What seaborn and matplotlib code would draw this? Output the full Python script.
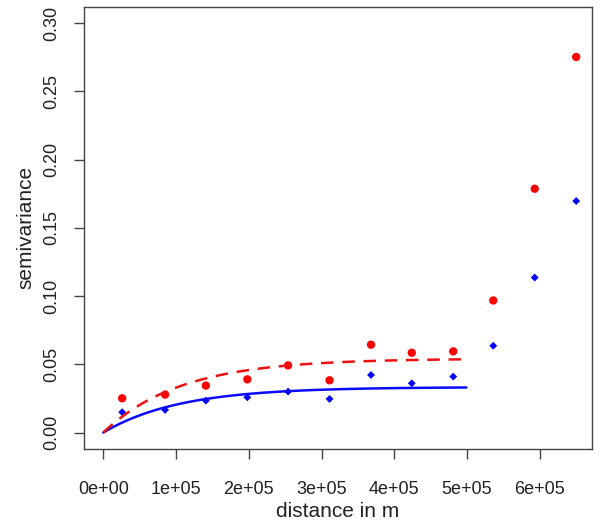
import numpy as np
import pandas as pd
import matplotlib
matplotlib.use("Agg")
import matplotlib.pyplot as plt
import seaborn as sns


sns.set_theme(style="ticks")
plt.rcParams["font.family"] = ["Liberation Sans", "DejaVu Sans"]

distance = [26000, 85000, 141000, 198000, 254000, 311000,
            368000, 424000, 481000, 536000, 593000, 650000]
gamma_red = [0.0251, 0.0278, 0.0344, 0.0390, 0.0492, 0.0383,
             0.0644, 0.0585, 0.0595, 0.0968, 0.1787, 0.2753]
gamma_blue = [0.0149, 0.0166, 0.0234, 0.0258, 0.0300, 0.0246,
              0.0422, 0.0361, 0.0410, 0.0636, 0.1136, 0.1697]

# fitted exponential models (sill, range), drawn up to the cutoff
red_sill, red_range, red_cutoff = 0.0542, 107000, 493000
blue_sill, blue_range, blue_cutoff = 0.0333, 105000, 499000

xticks = [0, 100000, 200000, 300000, 400000, 500000, 600000]
xtick_labels = ["0e+00", "1e+05", "2e+05", "3e+05", "4e+05", "5e+05", "6e+05"]
yticks = [0.00, 0.05, 0.10, 0.15, 0.20, 0.25, 0.30]

pts = pd.DataFrame({"distance": distance, "red": gamma_red, "blue": gamma_blue})

h_red = np.linspace(0, red_cutoff, 200)
h_blue = np.linspace(0, blue_cutoff, 200)
model_red = red_sill * (1 - np.exp(-h_red / red_range))
model_blue = blue_sill * (1 - np.exp(-h_blue / blue_range))

fig = plt.figure(figsize=(6, 5.3), dpi=100)
ax = fig.add_axes([0.14, 0.153, 0.847, 0.834])

sns.lineplot(x=h_blue, y=model_blue, color="#0a0aff", lw=1.8, ax=ax)
sns.lineplot(x=h_red, y=model_red, color="#ee1010", lw=1.8, ax=ax,
             linestyle=(0, (5, 3.5)))
sns.scatterplot(data=pts, x="distance", y="red", color="#ff0000",
                marker="o", s=36, edgecolor="none", ax=ax)
sns.scatterplot(data=pts, x="distance", y="blue", color="#0000ff",
                marker="D", s=16, edgecolor="none", ax=ax)

ax.set_xlim(-26500, 672000)
ax.set_ylim(-0.012, 0.312)
ax.set_xticks(xticks)
ax.set_xticklabels(xtick_labels)
ax.set_yticks(yticks)
ax.set_yticklabels([f"{v:.2f}" for v in yticks], rotation=90, va="center")

for s in ax.spines.values():
    s.set_color("#444444")
    s.set_linewidth(1.0)
ax.tick_params(axis="both", direction="out", length=7, width=1.0,
               color="#444444", labelsize=13, labelcolor="#222222")
ax.tick_params(axis="x", pad=16)
ax.tick_params(axis="y", pad=10)

ax.set_xlabel("distance in m", fontsize=15, color="#222222", labelpad=3)
ax.set_ylabel("semivariance", fontsize=15, color="#222222", labelpad=6)

fig.savefig("out.png", dpi=100)
